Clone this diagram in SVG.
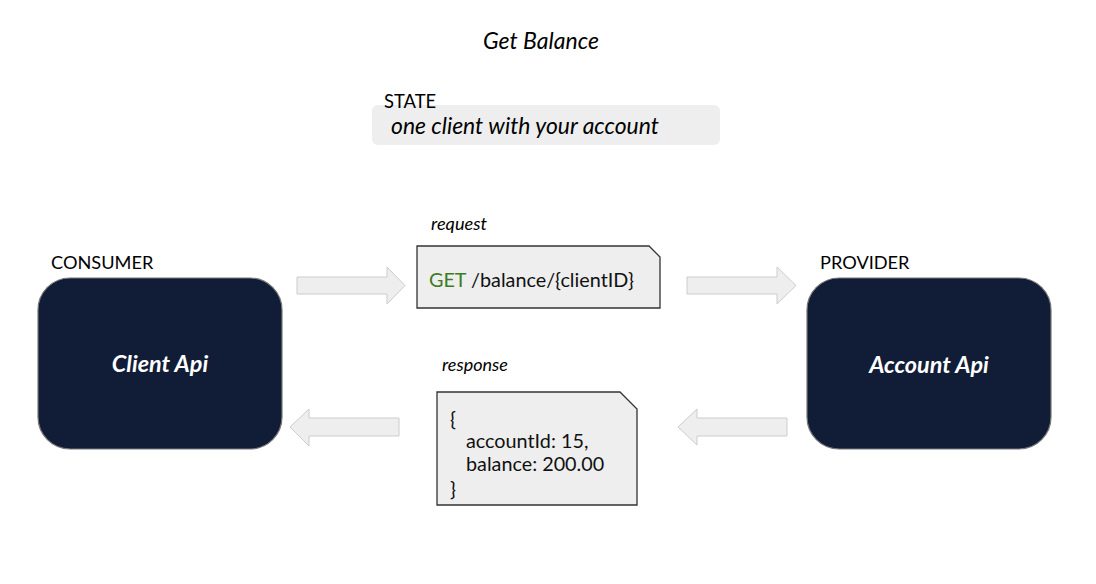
<svg xmlns="http://www.w3.org/2000/svg" width="1096" height="584" viewBox="0 0 1096 584">
<style>
text{font-family:Lato,"Open Sans","Liberation Sans",sans-serif;fill:#000}
.it{font-style:italic}
.lbl{font-size:18.2px}
.node{fill:#111c36;stroke:#777;stroke-width:1.2}
.ntxt{fill:#fff;font-size:23.4px;font-weight:bold;font-style:italic}
.arrow{fill:#eeeeee;stroke:#cccccc;stroke-width:1}
.doc{fill:#eeeeee;stroke:#333;stroke-width:1.3}
.code{font-size:19.8px;fill:#111}
</style>
<rect width="1096" height="584" fill="#fff"/>
<text x="541" y="49" class="it" font-size="23" text-anchor="middle">Get Balance</text>
<g id="state">
<rect x="372" y="105" width="348" height="40" rx="6" fill="#eeeeee"/>
<text x="384" y="108" font-size="18.4">STATE</text>
<text x="391" y="134" class="it" font-size="22.9">one client with your account</text>
</g>
<g id="consumer">
<text x="51" y="269" class="lbl">CONSUMER</text>
<rect class="node" x="38" y="278" width="244" height="171" rx="32"/>
<text x="160" y="372" class="ntxt" text-anchor="middle">Client Api</text>
</g>
<g id="provider">
<text x="820" y="269" class="lbl">PROVIDER</text>
<rect class="node" x="807" y="278" width="244" height="171" rx="32"/>
<text x="929" y="373" class="ntxt" text-anchor="middle">Account Api</text>
</g>
<g id="request">
<text x="431" y="230" class="it" font-size="18.2">request</text>
<path class="doc" d="M417 246 H649 L660 257 V308 H417 Z"/>
<text x="429" y="287" class="code" font-size="19.9"><tspan fill="#3b7d23">GET</tspan> /balance/{clientID}</text>
</g>
<g id="response">
<text x="442" y="371" class="it" font-size="18">response</text>
<path class="doc" d="M437 392 H620 L637 409 V505 H437 Z"/>
<text class="code"><tspan x="450" y="426">{</tspan><tspan x="466" y="448">accountId: 15,</tspan><tspan x="466" y="471">balance: 200.00</tspan><tspan x="450" y="496">}</tspan></text>
</g>
<g id="connectors">
<path class="arrow" d="M297 277 H387 V267 L405 285.5 L387 304 V294 H297 Z"/>
<path class="arrow" d="M687 277 H777 V267 L796 285.5 L777 304 V294 H687 Z"/>
<path class="arrow" d="M399 418 H309 V409 L290 427 L309 446 V436 H399 Z"/>
<path class="arrow" d="M787 418 H697 V409 L678 427 L697 445 V436 H787 Z"/>
</g>
</svg>
